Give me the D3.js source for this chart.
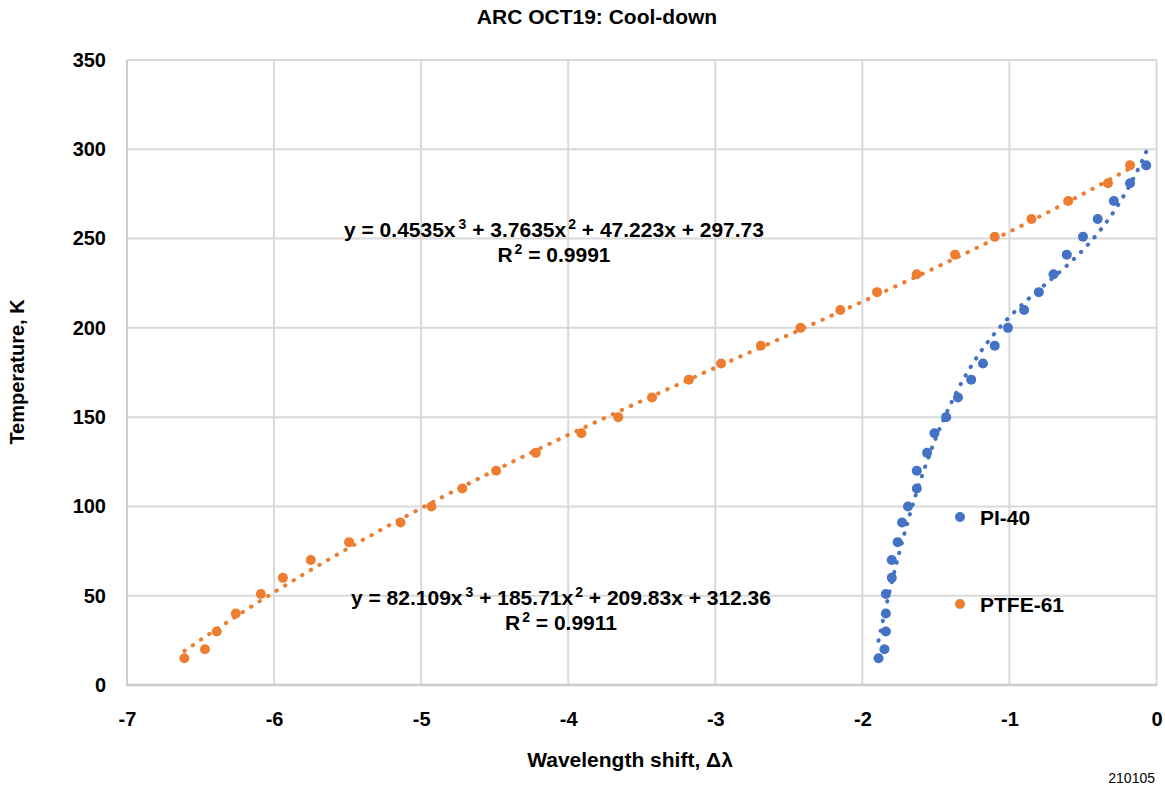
<!DOCTYPE html>
<html>
<head>
<meta charset="utf-8">
<script src="https://cdn.jsdelivr.net/npm/d3@7"></script>
<style>
  html, body { margin: 0; padding: 0; background: #ffffff; }
  svg { display: block; font-family: "Liberation Sans", Arial, Helvetica, sans-serif; }
</style>
</head>
<body>
<svg id="chart" width="1165" height="789"></svg>
<script>
// Cool-down run: temperature (K) against wavelength shift for two sensors
const temps = [15, 20, 30, 40, 51, 60, 70, 80, 91, 100, 110, 120, 130, 141, 150,
               161, 171, 180, 190, 200, 210, 220, 230, 241, 251, 261, 271, 281, 291];
const pi40 = [-1.89, -1.85, -1.84, -1.84, -1.84, -1.80, -1.80, -1.76, -1.73, -1.69,
              -1.63, -1.63, -1.56, -1.51, -1.43, -1.35, -1.26, -1.18, -1.10, -1.01,
              -0.90, -0.80, -0.70, -0.61, -0.50, -0.40, -0.29, -0.18, -0.07];
const ptfe61 = [-6.61, -6.47, -6.39, -6.26, -6.09, -5.94, -5.75, -5.49, -5.14, -4.93,
                -4.72, -4.49, -4.22, -3.91, -3.66, -3.43, -3.18, -2.96, -2.69, -2.42,
                -2.15, -1.90, -1.63, -1.37, -1.10, -0.85, -0.60, -0.33, -0.18];

// Cubic trendline coefficients [x^3, x^2, x, const] and R^2
const pi40Fit = [82.109, 185.71, 209.83, 312.36];
const pi40R2 = "0.9911";
const ptfe61Fit = [0.4535, 3.7635, 47.223, 297.73];
const ptfe61R2 = "0.9991";

const seriesNames = ["PI-40", "PTFE-61"];
const xTicks = [-7, -6, -5, -4, -3, -2, -1, 0];
const yTicks = [0, 50, 100, 150, 200, 250, 300, 350];

const titleText = "ARC OCT19: Cool-down";
const xTitle = "Wavelength shift, \u0394\u03bb";
const yTitle = "Temperature, K";
const footnote = "210105";

const colors = { "PI-40": "#4472C4", "PTFE-61": "#ED7D31" };

const svg = d3.select("#chart");
const plotL = 127, plotR = 1156.5, plotT = 60, plotB = 685;

const x = d3.scaleLinear().domain([-7, 0]).range([plotL, plotR]);
const y = d3.scaleLinear().domain([0, 350]).range([plotB, plotT]);

// grid
const grid = svg.append("g");
grid.selectAll("line.h").data(yTicks.filter(d => d !== 0)).join("line")
  .attr("x1", plotL).attr("x2", plotR)
  .attr("y1", d => y(d)).attr("y2", d => y(d))
  .attr("stroke", "#d9d9d9").attr("stroke-width", 2);
grid.selectAll("line.v").data(xTicks.filter(d => d !== -7)).join("line")
  .attr("x1", d => x(d)).attr("x2", d => x(d))
  .attr("y1", plotT).attr("y2", plotB)
  .attr("stroke", "#d9d9d9").attr("stroke-width", 2);

// axis lines
svg.append("line").attr("x1", plotL).attr("x2", plotL).attr("y1", plotT).attr("y2", plotB)
  .attr("stroke", "#cccccc").attr("stroke-width", 2);
svg.append("line").attr("x1", plotL - 1).attr("x2", plotR + 1).attr("y1", plotB).attr("y2", plotB)
  .attr("stroke", "#cccccc").attr("stroke-width", 2.5);

// axes via d3 (labels only, plain hyphen for negatives)
const tickFmt = d => String(d);
const xAxis = svg.append("g").attr("transform", `translate(0,${plotB})`)
  .call(d3.axisBottom(x).tickValues(xTicks).tickFormat(tickFmt).tickSize(0).tickPadding(27));
const yAxis = svg.append("g").attr("transform", `translate(${plotL},0)`)
  .call(d3.axisLeft(y).tickValues(yTicks).tickFormat(tickFmt).tickSize(0).tickPadding(21));
[xAxis, yAxis].forEach(a => {
  a.select(".domain").remove();
  a.selectAll("text").attr("font-size", 20).attr("font-weight", "bold")
    .attr("fill", "#000").attr("font-family", "Liberation Sans, Arial, sans-serif");
});

// markers
const series = [
  { name: "PI-40", xs: pi40, fit: pi40Fit },
  { name: "PTFE-61", xs: ptfe61, fit: ptfe61Fit }
];
series.forEach(s => {
  svg.append("g").selectAll("circle").data(s.xs.map((v, i) => [v, temps[i]])).join("circle")
    .attr("cx", d => x(d[0])).attr("cy", d => y(d[1])).attr("r", 5)
    .attr("fill", colors[s.name]);
});

// polynomial trendlines over each series' data range
const poly = (c, v) => c[0] * v * v * v + c[1] * v * v + c[2] * v + c[3];
const line = d3.line().x(d => x(d[0])).y(d => y(d[1]));
series.forEach(s => {
  const [x0, x1] = d3.extent(s.xs);
  const pts = d3.range(0, 201).map(i => {
    const v = x0 + (x1 - x0) * i / 200;
    return [v, poly(s.fit, v)];
  });
  svg.append("path").datum(pts).attr("d", line)
    .attr("fill", "none").attr("stroke", colors[s.name])
    .attr("stroke-width", 4).attr("stroke-linecap", "round")
    .attr("stroke-dasharray", "0.5 9.5");
});

// trendline equations
function fmt(v) { return String(v); }
function equation(g, c, r2, cx, cy) {
  const t = g.append("text").attr("x", cx).attr("y", cy).attr("text-anchor", "middle")
    .attr("font-size", 21).attr("font-weight", "bold").attr("fill", "#000");
  t.append("tspan").text(`y = ${fmt(c[0])}x`);
  t.append("tspan").attr("font-size", 14).attr("dx", 3).attr("dy", -8).text("3");
  t.append("tspan").attr("dy", 8).text(` + ${fmt(c[1])}x`);
  t.append("tspan").attr("font-size", 14).attr("dx", 2).attr("dy", -8).text("2");
  t.append("tspan").attr("dy", 8).text(` + ${fmt(c[2])}x + ${fmt(c[3])}`);
  const r = g.append("text").attr("x", cx).attr("y", cy + 25).attr("text-anchor", "middle")
    .attr("font-size", 21).attr("font-weight", "bold").attr("fill", "#000");
  r.append("tspan").text("R");
  r.append("tspan").attr("font-size", 14).attr("dx", 2).attr("dy", -8).text("2");
  r.append("tspan").attr("dy", 8).text(` = ${r2}`);
}
const eq = svg.append("g");
equation(eq, ptfe61Fit, ptfe61R2, 554, 237);
equation(eq, pi40Fit, pi40R2, 561, 605);

// legend
const legend = svg.append("g");
seriesNames.forEach((n, i) => {
  const ly = 517 + i * 87;
  legend.append("circle").attr("cx", 960).attr("cy", ly).attr("r", 5).attr("fill", colors[n]);
  legend.append("text").attr("x", 980).attr("y", ly + 8).attr("font-size", 21)
    .attr("font-weight", "bold").attr("fill", "#000").text(n);
});

// titles
svg.append("text").attr("x", 597).attr("y", 24).attr("text-anchor", "middle")
  .attr("font-size", 21).attr("font-weight", "bold").text(titleText);
svg.append("text").attr("x", 630).attr("y", 767).attr("text-anchor", "middle")
  .attr("font-size", 21).attr("font-weight", "bold").text(xTitle);
svg.append("text").attr("transform", "translate(24,372) rotate(-90)").attr("text-anchor", "middle")
  .attr("font-size", 20).attr("font-weight", "bold").text(yTitle);
svg.append("text").attr("x", 1155).attr("y", 783).attr("text-anchor", "end")
  .attr("font-size", 14).text(footnote);
</script>
</body>
</html>
